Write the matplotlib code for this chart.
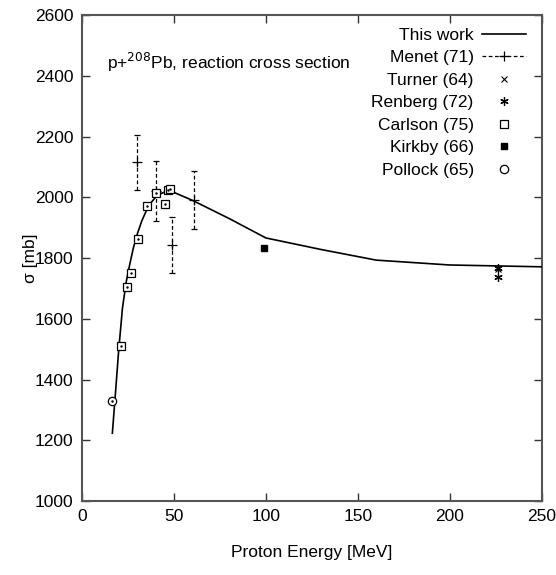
import matplotlib
matplotlib.use("Agg")
import matplotlib.pyplot as plt
from matplotlib.lines import Line2D

plt.rcParams["font.family"] = ["Liberation Sans", "DejaVu Sans"]

# Model curve: reaction cross section vs proton energy
work_E = [16.5, 18, 20, 22, 24, 26, 28, 30, 32.5, 35, 37.5, 40, 42.5, 45,
          47.5, 50, 60, 70, 80, 90, 100, 130, 160, 200, 250]
work_sigma = [1223, 1340, 1500, 1635, 1720, 1780, 1835, 1878, 1922, 1956,
              1982, 2000, 2011, 2017, 2019, 2016, 1990, 1960, 1930, 1898,
              1866, 1828, 1793, 1777, 1771]

# Measurements
menet_E = [30, 40, 49, 61]
menet_sigma = [2115, 2022, 1842, 1991]
menet_err = [90, 99, 92, 95]

turner_E = [226]
turner_sigma = [1763]

renberg_E = [226, 226]
renberg_sigma = [1766, 1736]

carlson_E = [21.2, 24.3, 26.5, 30.3, 35.2, 40.1, 45.1, 46.6, 47.9]
carlson_sigma = [1510, 1705, 1750, 1862, 1971, 2013, 1978, 2024, 2026]

kirkby_E = [99]
kirkby_sigma = [1833]

pollock_E = [16.3]
pollock_sigma = [1330]

FS = 12.5

fig = plt.figure(figsize=(5.56, 5.75), dpi=100)
ax = fig.add_axes([0.1475, 0.1287, 0.8268, 0.8452])

ax.plot(work_E, work_sigma, color="black", lw=1.2, zorder=3)

eb = ax.errorbar(menet_E, menet_sigma, yerr=menet_err, fmt="+", color="black",
                 ms=7, mew=0.9, elinewidth=0.9, capsize=2, capthick=0.9,
                 zorder=4)
for col in eb[2]:
    col.set_linestyle((0, (3, 2)))

ax.plot(turner_E, turner_sigma, "x", color="black", ms=5, mew=0.8, zorder=4)
ax.plot(renberg_E, renberg_sigma, linestyle="none", marker=(6, 2, 0),
        color="black", ms=6, mew=0.9, zorder=4)
ax.plot(carlson_E, carlson_sigma, "s", mfc="white", mec="black", ms=6,
        mew=0.9, zorder=5)
ax.plot(carlson_E, carlson_sigma, ".", color="black", ms=1.5, zorder=6)
ax.plot(kirkby_E, kirkby_sigma, "s", color="black", ms=5, zorder=5)
ax.plot(pollock_E, pollock_sigma, "o", mfc="white", mec="black", ms=6,
        mew=0.9, zorder=5)
ax.plot(pollock_E, pollock_sigma, ".", color="black", ms=1.5, zorder=6)

ax.set_xlim(0, 250)
ax.set_ylim(1000, 2600)
ax.set_xticks([0, 50, 100, 150, 200, 250])
ax.set_yticks(range(1000, 2601, 200))
ax.tick_params(direction="in", length=6, width=1, top=True, right=True,
               labelsize=FS, color="#333333", pad=6)
for s in ax.spines.values():
    s.set_color("#555555")
    s.set_linewidth(1.5)

ax.set_xlabel("Proton Energy [MeV]", fontsize=FS, labelpad=15)
ax.set_ylabel("σ [mb]", fontsize=FS, labelpad=-2)

ax.text(13.4, 2445, r"p+$^{208}$Pb, reaction cross section", fontsize=FS,
        va="center", ha="left")

handles = [
    Line2D([], [], color="black", lw=1.2),
    Line2D([], [], color="black", lw=0.9, ls=(0, (3, 2)), marker="+", ms=7,
           mew=0.9),
    Line2D([], [], color="black", ls="none", marker="x", ms=5, mew=0.8),
    Line2D([], [], color="black", ls="none", marker=(6, 2, 0), ms=6, mew=0.9),
    Line2D([], [], mfc="white", mec="black", ls="none", marker="s", ms=6,
           mew=0.9),
    Line2D([], [], color="black", ls="none", marker="s", ms=5),
    Line2D([], [], mfc="white", mec="black", ls="none", marker="o", ms=6,
           mew=0.9),
]
labels = ["This work", "Menet (71)", "Turner (64)", "Renberg (72)",
          "Carlson (75)", "Kirkby (66)", "Pollock (65)"]
ax.legend(handles, labels, loc="upper right", bbox_to_anchor=(0.988, 0.995),
          frameon=False, markerfirst=False, fontsize=FS, labelspacing=0.42,
          handlelength=2.5, handletextpad=0.5, borderaxespad=0.2)

fig.savefig("out.png", dpi=100)
